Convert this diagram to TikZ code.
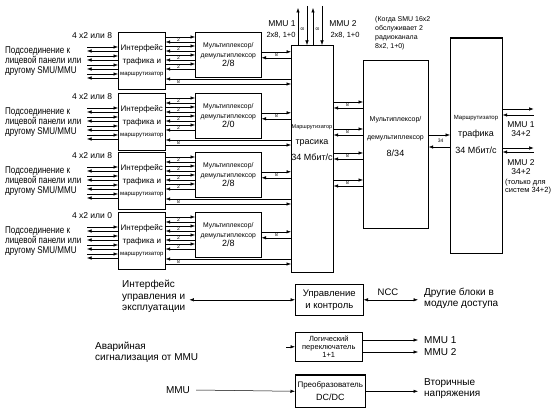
\documentclass[tikz,border=0pt]{standalone}
\usepackage{fontspec}
\setmainfont{Liberation Sans}
\newfontfamily\narrowsf[FakeStretch=0.82]{Liberation Sans}
\usetikzlibrary{arrows.meta,calc,positioning}

\newcommand{\fs}[2]{\fontsize{#1}{#2}\selectfont}

\tikzset{
  blk/.style={draw, line width=0.6pt, inner sep=1pt, align=center, anchor=north west},
  arr/.style={-{Latex[length=4.5pt,width=3.4pt]}, line width=0.5pt},
  biarr/.style={{Latex[length=4.5pt,width=3.4pt]}-{Latex[length=4.5pt,width=3.4pt]}, line width=0.5pt},
  num/.style={font=\fs{5}{6}, inner sep=0.3pt},
  lbl/.style={inner sep=0pt, align=left},
}

\begin{document}
\begin{tikzpicture}[x=1pt, y=-1pt]
\useasboundingbox (0,0) rectangle (555,417);

% interface blocks and 2/8 multiplexers
\foreach \i/\t/\n/\m in {1/32/8/{2/8}, 2/93/8/{2/0}, 3/152/8/{2/8}, 4/212/0/{2/8}} {
  \node[blk, minimum width=47pt, minimum height=57pt, font=\fs{8}{12.5}] (if\i) at (118,\t)
    {Интерфейс\\трафика и\\{\fs{6}{7}маршрутизатор}};
  \node[blk, minimum width=66pt, minimum height=45pt, font=\fs{6.8}{9.5}] (mx\i) at (195,\t)
    {Мультиплексор/\\демультиплексор\\{\fs{9}{9}\m}};
  \node[lbl, font=\narrowsf\fs{9.8}{10}, anchor=west] (src\i) at (5,{\t+29})
    {Подсоединение к\\лицевой панели или\\другому SMU/MMU};
  \node[lbl, font=\fs{8.5}{9}] (rate\i) at (92,{\t+4}) {4 x2 или \n};
}

% routers and 8/34 multiplexer
\node[blk, minimum width=42pt, minimum height=227pt] (rt1) at (291,45) {};
\node[font=\fs{9}{16}, align=center] (rt1t) at (312,143)
  {{\fs{5.5}{16}Маршрутизатор}\\трасика\\34 Мбит/с};
\node[blk, minimum width=65pt, minimum height=168pt] (mx34) at (363,60) {};
\node[font=\fs{7}{17.5}, align=center] (mx34t) at (395.5,137)
  {Мультиплексор/\\демультиплексор\\{\fs{9}{17.5}8/34}};
\node[blk, minimum width=52pt, minimum height=215pt] (rt2) at (450,38) {};
\draw[line width=1.6pt] (rt2.north west) -- (rt2.north east);
\draw[line width=1.6pt] (rt2.south west) -- (rt2.south east);
\node[font=\fs{9}{17}, align=center] (rt2t) at (476,134)
  {{\fs{6}{17}Маршрутизатор}\\трафика\\34 Мбит/с};

% links of the four branches
\foreach \i in {1,...,4} {
  \foreach \o in {15,24,33,42} {
    \draw[arr] ($(if\i.north west)+(-31,\o)$) -- ($(if\i.north west)+(0,\o)$);
    \draw[arr] ($(if\i.north west)+(0,\o+4)$) -- ($(if\i.north west)+(-31,\o+4)$);
  }
  \foreach \o in {5,14,23,32} {
    \draw[arr] ($(if\i.north east)+(0,\o)$) -- ($(mx\i.north west)+(0,\o)$);
    \draw[arr] ($(mx\i.north west)+(0,\o+5)$) -- ($(if\i.north east)+(0,\o+5)$);
    \node[num] at ($(if\i.north east)+(13,\o+2.5)$) {2};
  }
  \coordinate (bk\i) at ($(if\i.north east)+(0,47)$);
  \coordinate (fw\i) at ($(if\i.north east)+(0,52)$);
  \draw[arr] (bk\i -| rt1.west) -- (bk\i);
  \draw[arr] (fw\i) -- (fw\i -| rt1.west);
  \node[num] at ($(bk\i)+(13,2.5)$) {8};
  \coordinate (mo\i) at ($(mx\i.east)+(0,-3)$);
  \coordinate (mi\i) at ($(mx\i.east)+(0,3)$);
  \draw[arr] (mo\i) -- (mo\i -| rt1.west);
  \draw[arr] (mi\i -| rt1.west) -- (mi\i);
  \node[num] at ($(mx\i.east)+(15,0)$) {8};
}

% MMU links above the router
\draw[arr] ($(rt1.north west)+(7,0)$) -- ++(0,-37);
\draw[arr] ($(rt1.north west)+(16,-39)$) -- ++(0,39);
\draw[arr] ($(rt1.north west)+(22,0)$) -- ++(0,-37);
\draw[arr] ($(rt1.north west)+(31,-39)$) -- ++(0,39);
\node[num, rotate=90] at ($(rt1.north west)+(11.5,-16)$) {8};
\node[num, rotate=90] at ($(rt1.north west)+(26.5,-16)$) {8};
\node[font=\fs{8.5}{9}] (mmu1) at (282,24) {MMU 1};
\node[font=\fs{7.5}{9}] (mmu1r) at (281,35) {2x8, 1+0};
\node[font=\fs{8.5}{9}] (mmu2) at (343,24) {MMU 2};
\node[font=\fs{7.5}{9}] (mmu2r) at (345,35) {2x8, 1+0};
\node[lbl, font=\fs{7}{9}, anchor=north west] (note) at (375,16)
  {(Когда SMU 16x2\\обслуживает 2\\радиоканала\\8x2, 1+0)};

% router 1 to 8/34 multiplexer
\foreach \o in {57,84,108,135} {
  \draw[arr] ($(rt1.north east)+(0,\o)$) coordinate (q) -- (q -| mx34.west);
  \coordinate (r) at ($(rt1.north east)+(0,\o+6)$);
  \draw[arr] (r -| mx34.west) -- (r);
  \node[num] at ($(rt1.north east)+(14,\o+3)$) {8};
}

% 8/34 multiplexer to router 2
\coordinate (u1) at ($(mx34.north east)+(0,75)$);
\coordinate (u2) at ($(mx34.north east)+(0,87)$);
\draw[arr] (u1) -- (u1 -| rt2.west);
\draw[arr] (u2 -| rt2.west) -- (u2);
\node[num] at ($(mx34.north east)+(12,81)$) {34};

% router 2 outputs
\coordinate (o1) at ($(rt2.north east)+(31,71)$);
\coordinate (i1) at ($(rt2.north east)+(31,77)$);
\coordinate (o2) at ($(rt2.north east)+(31,110)$);
\coordinate (i2) at ($(rt2.north east)+(31,114)$);
\draw[arr] (o1 -| rt2.east) -- (o1);
\draw[arr] (i1) -- (i1 -| rt2.east);
\draw[arr] (o2 -| rt2.east) -- (o2);
\draw[arr] (i2) -- (i2 -| rt2.east);
\node[font=\fs{8.5}{8.5}, align=center] (mmuA) at (521,129) {MMU 1\\34+2};
\node[font=\fs{8.5}{8.5}, align=center] (mmuB) at (521,167) {MMU 2\\34+2};
\node[lbl, font=\fs{7.5}{8}, anchor=north west] (only) at (505,179)
  {(только для\\систем 34+2)};

% control, switch and power
\node[blk, minimum width=68pt, minimum height=31pt, font=\fs{9.5}{12}] (ctl) at (295,284)
  {Управление\\и контроль};
\node[lbl, font=\fs{10}{11.5}, anchor=north west] (oam) at (122,280)
  {Интерфейс\\управления и\\эксплуатации};
\draw[biarr] ([xshift=4pt]oam.east |- ctl.west) -- (ctl.west);
\node[lbl, font=\fs{10}{11}, anchor=west] (oth) at (424,298)
  {Другие блоки в\\модуле доступа};
\draw[biarr] (ctl.east) -- ([xshift=-6pt]ctl.east -| oth.west);
\node[font=\fs{9.5}{10}] (ncc) at (388,292) {NCC};

\node[blk, minimum width=67pt, minimum height=29pt, font=\fs{7.5}{7.6}] (sw) at (295,332)
  {Логический\\переключатель\\1+1};
\node[lbl, font=\fs{10}{11}, anchor=west] (alm) at (95,352)
  {Аварийная\\сигнализация от MMU};
\draw[arr] ([xshift=-9pt]sw.west) -- (sw.west);
\node[lbl, font=\fs{10}{11}, anchor=west] (m1) at (424,340) {MMU 1};
\node[lbl, font=\fs{10}{11}, anchor=west] (m2) at (424,352) {MMU 2};
\draw[arr] (sw.east |- m1.west) -- ([xshift=-6pt]m1.west);
\draw[arr] (sw.east |- m2.west) -- ([xshift=-6pt]m2.west);

\node[blk, minimum width=70pt, minimum height=32pt, font=\fs{8}{13}] (dc) at (295,375)
  {Преобразователь\\{\fs{9}{13}DC/DC}};
\draw[line width=1.2pt] (dc.north west) -- (dc.north east);
\node[lbl, font=\fs{10}{11}] (mmu) at (178,390) {MMU};
\draw[arr] ([xshift=6pt]mmu.east) -- (dc.west);
\node[lbl, font=\fs{10}{11}, anchor=west] (vt) at (424,389)
  {Вторичные\\напряжения};
\draw[arr] (dc.east) -- ([xshift=-6pt]dc.east -| vt.west);
\end{tikzpicture}
\end{document}
